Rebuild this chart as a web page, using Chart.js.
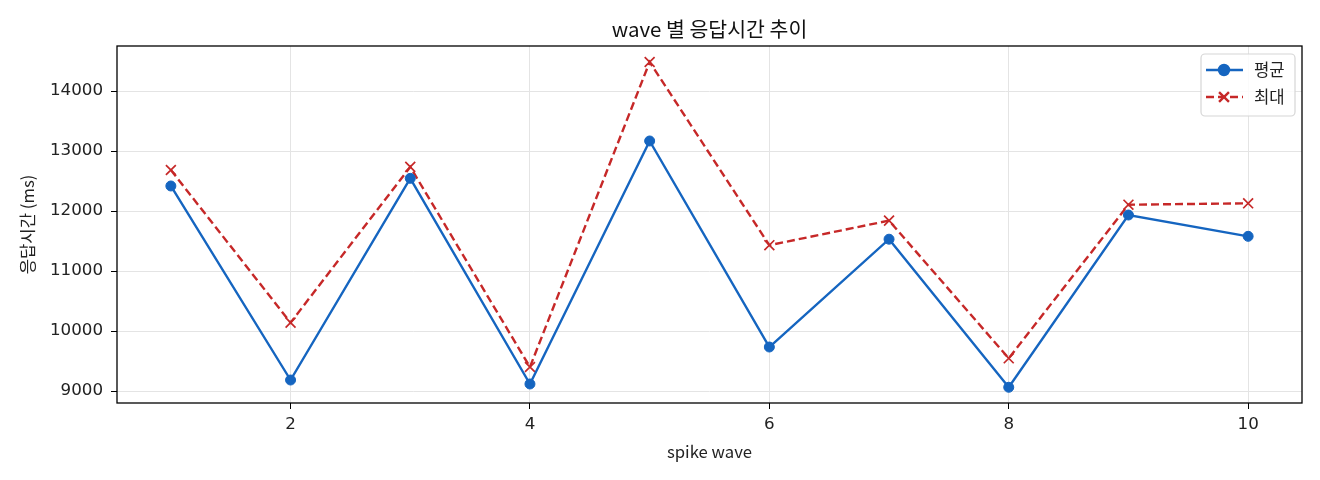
<!DOCTYPE html>
<html>
<head>
<meta charset="utf-8">
<script src="https://cdn.jsdelivr.net/npm/chart.js/dist/chart.umd.min.js"></script>
<style>
  body { margin: 0; background: #fff; }
  #wrap { width: 1320px; height: 480px; }
</style>
</head>
<body>
<div id="wrap"><canvas id="waveChart"></canvas></div>
<script>
// 데이터
const waves = [1, 2, 3, 4, 5, 6, 7, 8, 9, 10];
const avgMs = [12417, 9183, 12544, 9117, 13167, 9733, 11530, 9062, 11933, 11578];
const maxMs = [12683, 10139, 12735, 9400, 14483, 11430, 11840, 9545, 12105, 12128];
const xTicks = [2, 4, 6, 8, 10];
const yTicks = [9000, 10000, 11000, 12000, 13000, 14000];
const chartTitle = 'wave 별 응답시간 추이';

const FONT = "'Noto Sans CJK KR', 'Noto Sans', sans-serif";
const TICK_FONT = "'DejaVu Sans', 'Noto Sans CJK KR', sans-serif";
Chart.defaults.font.family = FONT;
Chart.defaults.color = '#222';

// matplotlib 스타일 테두리 + 플롯 영역 기준 가운데 제목
const framePlugin = {
  id: 'frame',
  afterDatasetsDraw(chart) {
    const a = chart.chartArea, c = chart.ctx;
    c.save();
    c.strokeStyle = '#000';
    c.lineWidth = 1.3;
    c.strokeRect(a.left, a.top, a.right - a.left, a.bottom - a.top);
    c.fillStyle = '#111';
    c.font = '20.5px ' + FONT;
    c.textAlign = 'center';
    c.textBaseline = 'middle';
    c.fillText(chartTitle, (a.left + a.right) / 2, a.top - 17);
    c.restore();
  }
};

// 범례 (플롯 안 오른쪽 위, 박스)
const boxLegend = {
  id: 'boxLegend',
  afterDraw(chart) {
    const a = chart.chartArea, c = chart.ctx;
    const w = 94, h = 62;
    const x0 = a.right - 7 - w, y0 = a.top + 8;
    c.save();
    c.fillStyle = 'rgba(255,255,255,0.85)';
    c.strokeStyle = '#d6d6d6';
    c.lineWidth = 1.2;
    c.beginPath();
    c.roundRect(x0, y0, w, h, 4);
    c.fill();
    c.stroke();
    chart.data.datasets.forEach((ds, i) => {
      const y = y0 + 16 + i * 27;
      c.strokeStyle = ds.borderColor;
      c.lineWidth = ds.borderWidth;
      c.setLineDash(ds.borderDash || []);
      c.beginPath();
      c.moveTo(x0 + 5, y);
      c.lineTo(x0 + 42, y);
      c.stroke();
      c.setLineDash([]);
      c.fillStyle = ds.backgroundColor;
      c.strokeStyle = ds.borderColor;
      Chart.helpers.drawPoint(c, {
        pointStyle: ds.pointStyle,
        radius: ds.pointRadius,
        borderWidth: ds.pointBorderWidth || 1
      }, x0 + 23, y);
      c.fillStyle = '#222';
      c.font = '16.7px ' + FONT;
      c.textAlign = 'left';
      c.textBaseline = 'middle';
      c.fillText(ds.label, x0 + 53, y);
    });
    c.restore();
  }
};

const ctx = document.getElementById('waveChart').getContext('2d');

const waveChart = new Chart(ctx, {
  type: 'line',
  data: {
    datasets: [
      {
        label: '평균',
        data: waves.map((w, i) => ({ x: w, y: avgMs[i] })),
        borderColor: '#1565c0',
        backgroundColor: '#1565c0',
        borderWidth: 2.4,
        pointStyle: 'circle',
        pointRadius: 5,
        pointBorderWidth: 1
      },
      {
        label: '최대',
        data: waves.map((w, i) => ({ x: w, y: maxMs[i] })),
        borderColor: '#c62828',
        backgroundColor: '#c62828',
        borderWidth: 2.4,
        borderDash: [8, 4],
        pointStyle: 'crossRot',
        pointRadius: 7,
        pointBorderWidth: 1.7
      }
    ]
  },
  plugins: [framePlugin, boxLegend],
  options: {
    responsive: true,
    maintainAspectRatio: false,
    animation: false,
    layout: { padding: { left: 0, right: 18, top: 46, bottom: 0 } },
    plugins: {
      legend: { display: false },
      tooltip: { enabled: false },
      title: { display: false }
    },
    scales: {
      x: {
        type: 'linear',
        min: 0.55,
        max: 10.45,
        afterBuildTicks: (s) => { s.ticks = xTicks.map(v => ({ value: v })); },
        afterFit: (s) => { s.height = 77; },
        border: { display: false },
        grid: { color: '#e4e4e4', tickColor: '#000', tickLength: 6, lineWidth: 1 },
        ticks: { font: { size: 16.7, family: TICK_FONT }, color: '#222', padding: 6 },
        title: { display: true, text: 'spike wave', font: { size: 16.7 }, color: '#222', padding: { top: 4, bottom: 18 } }
      },
      y: {
        min: 8800,
        max: 14750,
        afterBuildTicks: (s) => { s.ticks = yTicks.map(v => ({ value: v })); },
        afterFit: (s) => { s.width = 117; },
        border: { display: false },
        grid: { color: '#e4e4e4', tickColor: '#000', tickLength: 6, lineWidth: 1 },
        ticks: { font: { size: 16.7, family: TICK_FONT }, color: '#222', padding: 8, callback: (v) => String(v) },
        title: { display: true, text: '응답시간 (ms)', font: { size: 16.7 }, color: '#222', padding: { top: 18, bottom: 4 } }
      }
    }
  }
});
</script>
</body>
</html>
